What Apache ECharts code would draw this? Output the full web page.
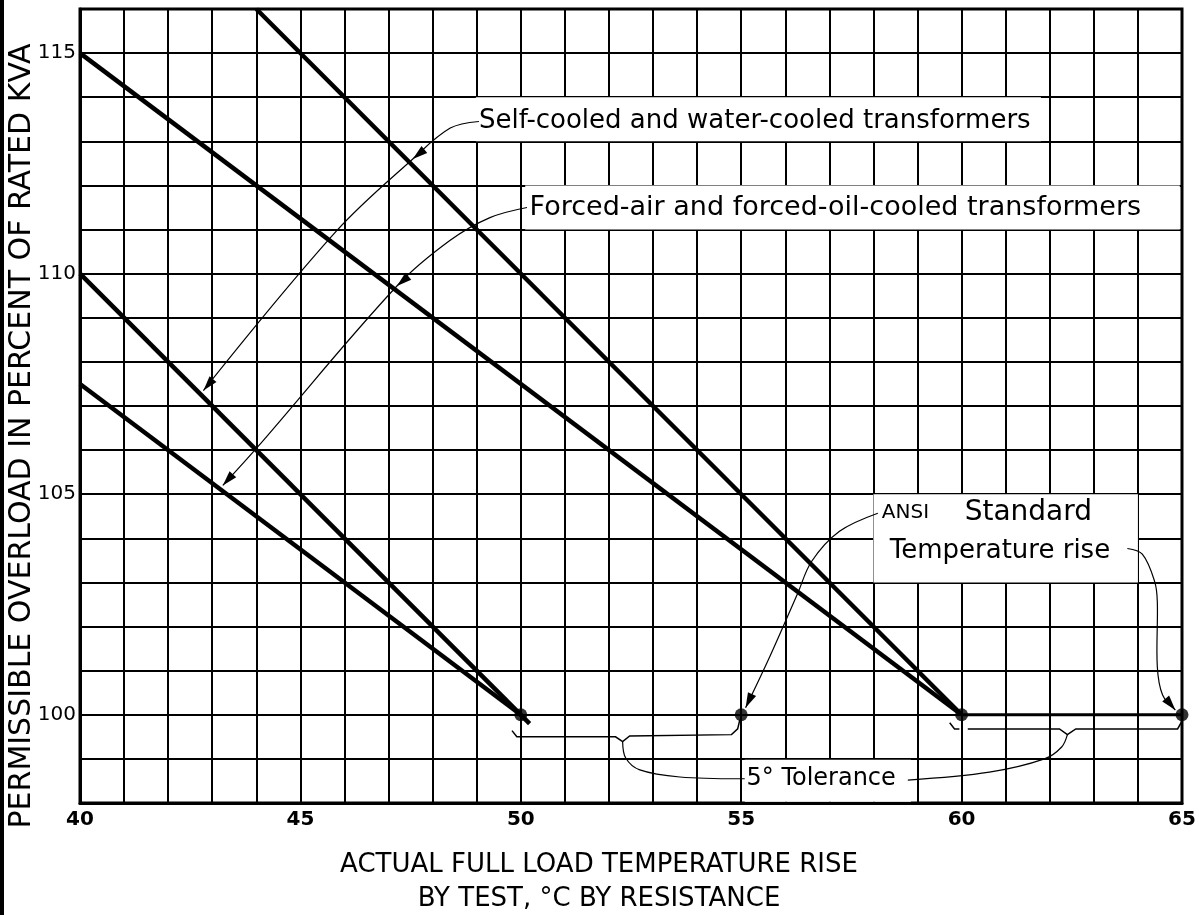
<!DOCTYPE html>
<html>
<head>
<meta charset="utf-8">
<title>Permissible overload</title>
<script src="https://cdn.jsdelivr.net/npm/echarts@6/dist/echarts.min.js"></script>
<style>
	html, body { margin: 0; padding: 0; background: #fff; }
	#chart { width: 1199px; height: 915px; }
</style>
</head>
<body>
<div id="chart"></div>
<script>
/* 刻度 */
var xTickLabels = [40, 45, 50, 55, 60, 65];
var yTickLabels = [100, 105, 110, 115];

/* 50° rise curves */
var rise50Self = [40, 50.2];
var selfCooled50 = [110, 99.8];
var rise50Forced = [40, 50];
var forcedAir50 = [107.5, 100];

/* 60° rise curves */
var rise60Self = [44, 60];
var selfCooled60 = [116, 100];
var rise60Forced = [40, 60];
var forcedAir60 = [115, 100];

/* ANSI standard rise points + tolerance */
var ansiRise = [50, 55, 60, 65];
var ansiKva = [100, 100, 100, 100];
var tolRise = [60, 65];
var tolKva = [100, 100];

/* annotation paths, data units */
var selfArrow = [[49.05, 113.45], [48.4, 113.3], [47.55, 112.6], [45.83, 110.98], [42.8, 107.35]];
var forcedArrow = [[50.14, 111.5], [49.3, 111.27], [48.39, 110.75], [47.19, 109.72], [44.01, 106.05], [43.24, 105.2]];
var ansiArrow = [[58.1, 104.57], [57.23, 104.16], [56.6, 103.48], [56.28, 102.75], [55.65, 101.32], [55.1, 100.16]];
var riseArrow = [[63.76, 103.77], [64.1, 103.64], [64.38, 103.02], [64.44, 102.57], [64.44, 101.09], [64.56, 100.45], [64.85, 100.11]];
var tolCurveA = [[52.31, 99.39], [52.38, 99.02], [52.7, 98.75], [53.61, 98.59], [55.08, 98.55]];
var tolCurveB = [[58.78, 98.52], [60.63, 98.7], [61.88, 99.0], [62.27, 99.27], [62.4, 99.55]];
var bracket1 = [[49.8, 99.64], [49.91, 99.5], [52.15, 99.5], [52.31, 99.39], [52.47, 99.52], [54.78, 99.55], [54.92, 99.68], [54.97, 99.89]];
var bracket2Hook = [[59.73, 99.82], [59.84, 99.68], [59.95, 99.68]];
var bracket2 = [[60.14, 99.68], [62.22, 99.68], [62.4, 99.55], [62.59, 99.68], [64.9, 99.68], [64.99, 99.84]];

var FONT = '"DejaVu Sans", "Noto Sans", sans-serif';

function pairs(xs, ys){
	return xs.map(function(x, i){ return [x, ys[i]]; });
}

function lineSeries(name, xs, ys, width){
	return {
		name: name,
		type: 'line',
		data: pairs(xs, ys),
		symbol: 'none',
		silent: true,
		lineStyle: { color: '#000', width: width || 4.5 },
		z: 3
	};
}

var chart = echarts.init(document.getElementById('chart'));

chart.setOption({
	animation: false,
	backgroundColor: '#fff',
	grid: {
		left: 80, right: 17, top: 9, bottom: 112,
		show: true, borderColor: '#000', borderWidth: 3,
		outerBoundsMode: 'none'
	},
	xAxis: {
		type: 'value', min: 40, max: 65, interval: 1,
		axisLine: { lineStyle: { color: '#000', width: 3 } },
		axisTick: { show: false },
		splitLine: { lineStyle: { color: '#000', width: 2 } },
		axisLabel: {
			color: '#000', fontSize: 20, fontWeight: 'bold', fontFamily: FONT, margin: 7,
			formatter: function(v){ return xTickLabels.indexOf(v) >= 0 ? String(v) : ''; }
		},
		name: 'ACTUAL FULL LOAD TEMPERATURE RISE\nBY TEST, °C BY RESISTANCE',
		nameLocation: 'middle',
		nameGap: 45,
		nameMoveOverlap: false,
		nameTextStyle: { color: '#000', fontSize: 26, fontFamily: FONT, lineHeight: 34, padding: [0, 64, 0, 0] }
	},
	yAxis: {
		type: 'value', min: 98, max: 116, interval: 1,
		axisLine: { lineStyle: { color: '#000', width: 3 } },
		axisTick: { show: false },
		splitLine: { lineStyle: { color: '#000', width: 2 } },
		axisLabel: {
			color: '#000', fontSize: 20, fontFamily: FONT, margin: 4,
			formatter: function(v){ return yTickLabels.indexOf(v) >= 0 ? String(v) : ''; }
		},
		name: 'PERMISSIBLE OVERLOAD IN PERCENT OF RATED KVA',
		nameLocation: 'middle',
		nameGap: 43,
		nameMoveOverlap: false,
		nameTextStyle: { color: '#000', fontSize: 30, fontFamily: FONT, padding: [0, 60, 0, 0] }
	},
	series: [
		lineSeries('Self-cooled 50°', rise50Self, selfCooled50),
		lineSeries('Forced-air 50°', rise50Forced, forcedAir50),
		lineSeries('Self-cooled 60°', rise60Self, selfCooled60),
		lineSeries('Forced-air 60°', rise60Forced, forcedAir60),
		lineSeries('Tolerance', tolRise, tolKva, 3),
		{
			name: 'ANSI standard',
			type: 'scatter',
			data: pairs(ansiRise, ansiKva),
			symbolSize: 13,
			clip: false,
			silent: true,
			itemStyle: { color: '#000' },
			z: 4
		}
	]
});

/* 注释 */
function px(p){
	return chart.convertToPixel({ xAxisIndex: 0, yAxisIndex: 0 }, p);
}

function curve(points, width, smooth){
	return {
		type: 'polyline',
		silent: true,
		shape: { points: points.map(px), smooth: smooth === undefined ? 0.35 : smooth },
		style: { stroke: '#000', lineWidth: width || 1.2, fill: null },
		z: 20
	};
}

function arrowHead(tipData, fromData){
	var tip = px(tipData), from = px(fromData);
	var dx = tip[0] - from[0], dy = tip[1] - from[1];
	var len = Math.sqrt(dx * dx + dy * dy);
	var ux = dx / len, uy = dy / len;
	var L = 15, W = 4.5;
	var bx = tip[0] - ux * L, by = tip[1] - uy * L;
	return {
		type: 'polygon',
		silent: true,
		shape: { points: [tip, [bx - uy * W, by + ux * W], [bx + uy * W, by - ux * W]] },
		style: { fill: '#000' },
		z: 21
	};
}

function box(x0, y0, x1, y1){
	var a = px([x0, y1]), b = px([x1, y0]);
	return {
		type: 'rect',
		silent: true,
		shape: { x: a[0], y: a[1], width: b[0] - a[0], height: b[1] - a[1] },
		style: { fill: '#fff' },
		z: 15
	};
}

function label(text, at, size){
	var p = px(at);
	return {
		type: 'text',
		silent: true,
		x: p[0], y: p[1],
		style: { text: text, fill: '#000', font: size + 'px ' + FONT, align: 'left', verticalAlign: 'middle' },
		z: 22
	};
}

var g = [
	{ type: 'rect', silent: true, shape: { x: 0, y: 0, width: 4, height: 915 }, style: { fill: '#000' }, z: 30 },
	box(48.98, 113, 61.8, 114),
	box(50.1, 111, 64.95, 112),
	box(58, 103, 64, 105),
	box(55.08, 98.03, 58.85, 98.98),
	label('Self-cooled and water-cooled transformers', [49.05, 113.45], 26),
	label('Forced-air and forced-oil-cooled transformers', [50.2, 111.5], 27),
	label('ANSI', [58.19, 104.57], 20),
	label('Standard', [60.07, 104.57], 28),
	label('Temperature rise', [58.37, 103.7], 26),
	label('5° Tolerance', [55.12, 98.55], 24),
	curve(selfArrow),
	arrowHead(selfArrow[2], selfArrow[1]),
	arrowHead(selfArrow[4], selfArrow[3]),
	curve(forcedArrow),
	arrowHead(forcedArrow[3], forcedArrow[2]),
	arrowHead(forcedArrow[5], forcedArrow[4]),
	curve(ansiArrow),
	arrowHead(ansiArrow[5], ansiArrow[4]),
	curve(riseArrow),
	arrowHead(riseArrow[6], riseArrow[5]),
	curve(tolCurveA),
	curve(tolCurveB),
	curve(bracket1, 1.5, 0),
	curve(bracket2Hook, 1.5, 0),
	curve(bracket2, 1.5, 0)
];

chart.setOption({ graphic: g });
</script>
</body>
</html>
